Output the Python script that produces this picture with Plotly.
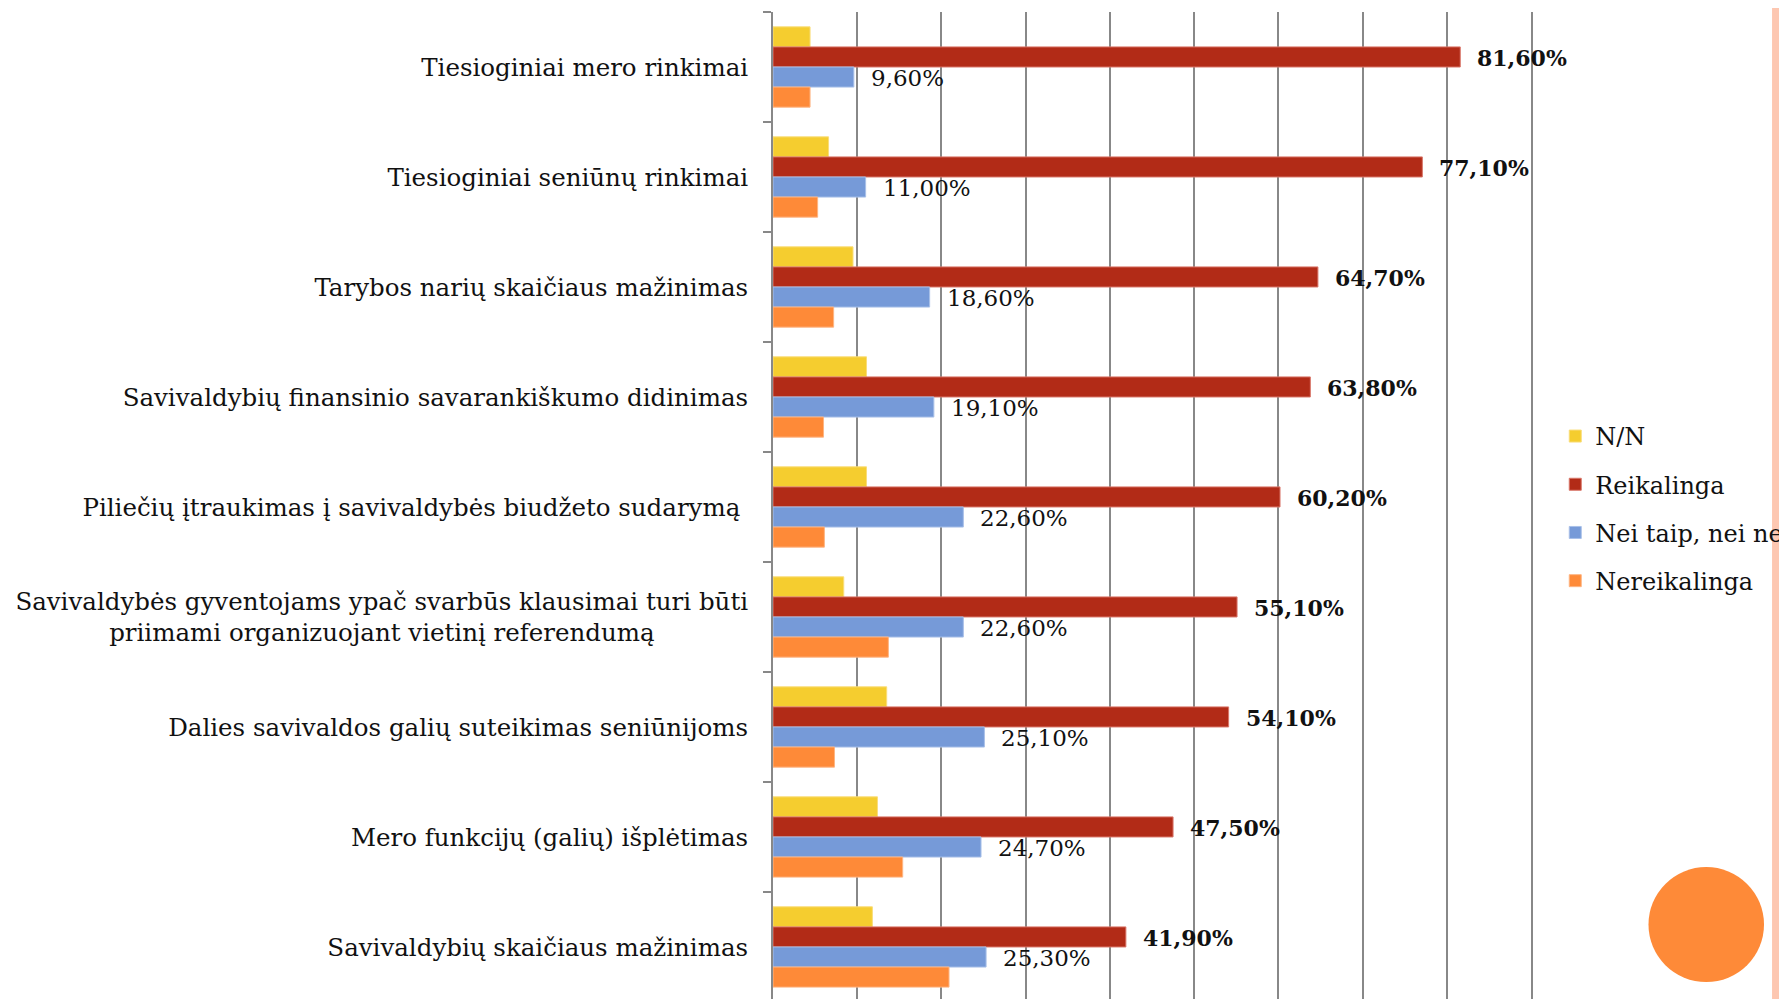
import plotly.graph_objects as go

categories = [
    "Tiesioginiai mero rinkimai",
    "Tiesioginiai seniūnų rinkimai",
    "Tarybos narių skaičiaus mažinimas",
    "Savivaldybių finansinio savarankiškumo didinimas",
    "Piliečių įtraukimas į savivaldybės biudžeto sudarymą ",
    "Savivaldybės gyventojams ypač svarbūs klausimai turi būti<br>priimami organizuojant vietinį referendumą" + "\u00a0" * 12,
    "Dalies savivaldos galių suteikimas seniūnijoms",
    "Mero funkcijų (galių) išplėtimas",
    "Savivaldybių skaičiaus mažinimas",
]
nn = [4.4, 6.6, 9.5, 11.1, 11.1, 8.4, 13.5, 12.4, 11.8]
reikalinga = [81.6, 77.1, 64.7, 63.8, 60.2, 55.1, 54.1, 47.5, 41.9]
nei = [9.6, 11.0, 18.6, 19.1, 22.6, 22.6, 25.1, 24.7, 25.3]
nereikalinga = [4.4, 5.3, 7.2, 6.0, 6.1, 13.7, 7.3, 15.4, 20.9]

series_names = ["N/N", "Reikalinga", "Nei taip, nei ne", "Nereikalinga"]
colors = ["#F5CD2F", "#B22B17", "#769AD8", "#FE8A38"]
edge = ["#F9DD7A", "#D9776A", "#A9C0E8", "#FEB583"]

FONT = "DejaVu Serif"
FS = 24.5

fig = go.Figure()
for name, vals, c, e in zip(series_names, [nn, reikalinga, nei, nereikalinga], colors, edge):
    fig.add_trace(go.Bar(
        y=categories, x=vals, name=name, orientation="h",
        marker=dict(color=c, line=dict(color=e, width=1)),
        legendgroup=name, hoverinfo="skip",
    ))

def fmt(v):
    return f"{v:.2f}".replace(".", ",") + "%"

annotations = []
for cat, v in zip(categories, reikalinga):
    annotations.append(dict(x=v, y=cat, xref="x", yref="y", text="<b>" + fmt(v) + "</b>",
                            showarrow=False, xanchor="left", yanchor="middle", xshift=15, yshift=9,
                            font=dict(family=FONT, size=22, color="#111")))
for cat, v in zip(categories, nei):
    annotations.append(dict(x=v, y=cat, xref="x", yref="y", text=fmt(v),
                            showarrow=False, xanchor="left", yanchor="middle", xshift=15, yshift=-11,
                            font=dict(family=FONT, size=23, color="#111")))

fig.update_layout(
    width=1779, height=991,
    margin=dict(l=765, r=256, t=4, b=0, pad=0, autoexpand=False),
    paper_bgcolor="white", plot_bgcolor="white",
    barmode="group", bargap=0.27, bargroupgap=0,
    font=dict(family=FONT, size=FS, color="#111"),
    showlegend=True,
    legend=dict(x=1.032, xanchor="left", y=0.497, yanchor="middle",
                traceorder="grouped", tracegroupgap=14,
                font=dict(family=FONT, size=24, color="#111"),
                bgcolor="rgba(0,0,0,0)"),
    annotations=annotations,
    shapes=[
        dict(type="rect", xref="paper", yref="paper", x0=1.318, x1=1.3285, y0=-0.1, y1=1.1,
             fillcolor="#FDC7B1", line=dict(width=0), layer="below"),
        dict(type="circle", xref="paper", yref="paper", x0=1.155, x1=1.3074, y0=0.0172, y1=0.1337,
             fillcolor="#FE8A38", line=dict(width=0)),
    ],
)
fig.update_xaxes(range=[0, 90], dtick=10, showticklabels=False, showgrid=True,
                 gridcolor="#888888", gridwidth=2, zeroline=False, showline=False, ticks="")
fig.update_yaxes(categoryorder="array", categoryarray=categories, range=[8.473, -0.5],
                 showline=True, mirror=True, linecolor="#888888", linewidth=2,
                 ticks="outside", tickson="boundaries", ticklen=8, tickcolor="#888888", tickwidth=2,
                 ticklabelstandoff=18, showgrid=False, zeroline=False,
                 tickfont=dict(family=FONT, size=FS, color="#111"))

fig.write_html("out.html")
